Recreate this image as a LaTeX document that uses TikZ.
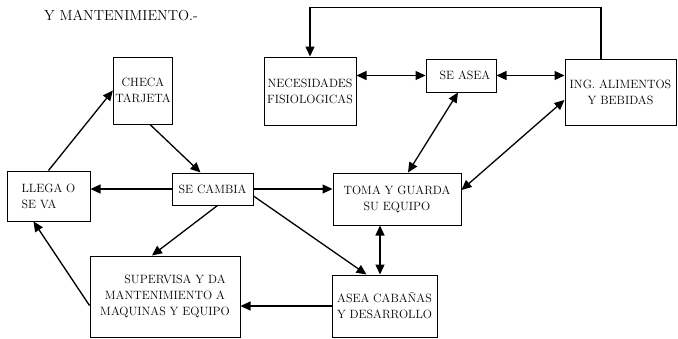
\documentclass[tikz,border=0pt]{standalone}
\usetikzlibrary{arrows.meta,positioning,calc}

\begin{document}
\begin{tikzpicture}[x=1pt, y=-1pt,
    box/.style={rectangle, draw, line width=1pt, inner sep=2pt, font=\fontsize{12}{16}\selectfont, align=center},
    conn/.style={line width=1.3pt, -{Triangle[length=10pt,width=9pt]}},
    bconn/.style={line width=1.3pt, {Triangle[length=10pt,width=9pt]}-{Triangle[length=10pt,width=9pt]}}]
    \useasboundingbox (0,0) rectangle (678,338);

    % Title
    \node[font=\fontsize{14.5}{16}\selectfont] (title) at (121,15) {Y MANTENIMIENTO.-};

    % Upper row
    \node[box, minimum width=58pt, minimum height=67pt] (checa) at (143,90.5) {CHECA\\TARJETA};
    \node[box, minimum width=92pt, minimum height=68pt] (necesidades) at (310,91) {NECESIDADES\\FISIOLOGICAS};
    \node[box, minimum width=70pt, minimum height=33pt] (seasea) at (461,75.5) {\hspace*{8pt}SE ASEA};
    \node[box, minimum width=111pt, minimum height=66pt] (alimentos) at (620.5,92) {ING. ALIMENTOS\\Y BEBIDAS};

    % Middle row
    \node[box, minimum width=83pt, minimum height=50pt, align=left] (llega) at (48.5,196) {LLEGA O\\SE VA};
    \node[box, minimum width=81pt, minimum height=32pt] (cambia) at (212.5,189) {SE CAMBIA};
    \node[box, minimum width=128pt, minimum height=52pt] (toma) at (397,199) {TOMA Y GUARDA\\SU EQUIPO};

    % Lower row
    \node[box, minimum width=150pt, minimum height=81pt] (supervisa) at (165,296.5) {\hspace*{20pt}SUPERVISA Y DA\\MANTENIMIENTO A\\MAQUINAS Y EQUIPO};
    \node[box, minimum width=105pt, minimum height=62pt] (cabanas) at (384.5,306) {ASEA CABAÑAS\\Y DESARROLLO};

    % Connections
    \draw[conn] (llega.north) -- (checa.west);
    \draw[conn] ([xshift=7pt]checa.south) -- ([xshift=-12pt]cambia.north);
    \draw[conn] (cambia.west) -- (cambia.west -| llega.east);
    \draw[conn] (cambia.east) -- (cambia.east -| toma.west);
    \draw[conn] ([xshift=5pt]cambia.south) -- ([xshift=-13pt]supervisa.north);
    \draw[conn] ([yshift=-7pt]cambia.east) -- ([xshift=-18pt]cabanas.north);
    \draw[conn] ([yshift=-9pt]supervisa.west) -- ([xshift=-15pt]llega.south);
    \draw[conn] (cabanas.west) -- (cabanas.west -| supervisa.east);
    \draw[bconn] ([xshift=-17pt]toma.south) -- ([xshift=-4.5pt]cabanas.north);
    \draw[bconn] ([xshift=11pt]toma.north) -- ([xshift=-3pt]seasea.south);
    \draw[bconn] ([yshift=9pt]toma.east) -- ([yshift=-8pt]alimentos.west);
    \draw[bconn] (seasea.west -| necesidades.east) -- (seasea.west);
    \draw[bconn] (seasea.east) -- (seasea.east -| alimentos.west);

    % Feedback
    \draw[conn] ([xshift=-19.5pt]alimentos.north) -- ++(0,-51) -| (necesidades.north);
\end{tikzpicture}
\end{document}
